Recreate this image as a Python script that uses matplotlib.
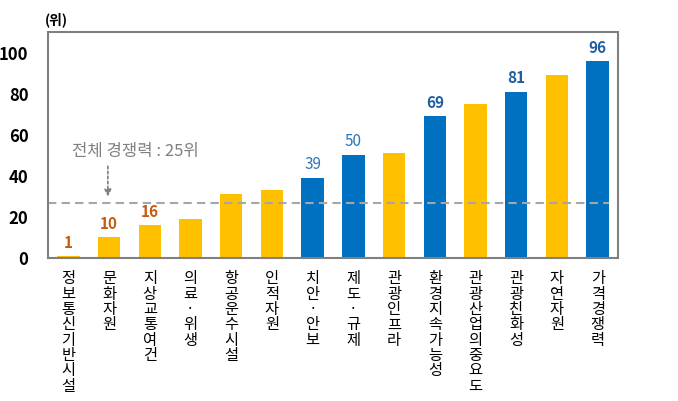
import matplotlib
matplotlib.use("Agg")
import matplotlib.pyplot as plt

plt.rcParams['font.family'] = ['Noto Sans CJK KR', 'DejaVu Sans']

categories = ["정보통신기반시설", "문화자원", "지상교통여건", "의료·위생", "항공운수시설", "인적자원",
              "치안·안보", "제도·규제", "관광인프라", "환경지속가능성", "관광산업의중요도", "관광친화성",
              "자연자원", "가격경쟁력"]
values = [1, 10, 16, 19, 31, 33, 39, 50, 51, 69, 75, 81, 89, 96]
groups = ["y", "y", "y", "y", "y", "y", "b", "b", "y", "b", "y", "b", "y", "b"]
labels = {0: ("1", "#C55A11", "bold"), 1: ("10", "#C55A11", "bold"), 2: ("16", "#C55A11", "bold"),
          6: ("39", "#2E75B6", "normal"), 7: ("50", "#2E75B6", "normal"),
          9: ("69", "#1F5FA0", "bold"), 11: ("81", "#1F5FA0", "bold"), 13: ("96", "#1F5FA0", "bold")}
overall = 27
yticks = [0, 20, 40, 60, 80, 100]

colors = {"y": "#FFC000", "b": "#0070C0"}

fig = plt.figure(figsize=(6.78, 4.01), dpi=100)
ax = fig.add_axes([48/678, 1-258/401, 570/678, 226/401])
x = list(range(len(values)))
ax.bar(x, values, width=0.55, color=[colors[g] for g in groups])
ax.set_xlim(-0.5, len(values)-0.5)
ax.set_ylim(0, 110)
ax.axhline(overall, color="#A6A6A6", linestyle=(0, (4, 2.5)), linewidth=1.5, xmin=0, xmax=0.985)
for i, (t, c, w) in labels.items():
    ax.text(i, values[i] + 2.5, t, ha="center", va="bottom", color=c, fontsize=11, fontweight=w)
for s in ax.spines.values():
    s.set_visible(False)
ax.plot([0, 0, 1, 1, 0], [0, 1, 1, 0, 0], transform=ax.transAxes, color="#7F7F7F",
        linewidth=1.5, clip_on=False, zorder=5, solid_joinstyle="miter")
ax.set_yticks(yticks)
ax.set_yticklabels([str(v) for v in yticks], fontsize=12, fontweight="bold")
ax.tick_params(axis="y", length=0, pad=14)
ax.set_xticks(x)
ax.set_xticklabels(["\n".join(c) for c in categories], fontsize=11, linespacing=0.87, va="top")
ax.tick_params(axis="x", length=0, pad=9)
ax.text(-0.005, 1.02, "(위)", transform=ax.transAxes, fontsize=10, ha="left", va="bottom", fontweight="bold")
ax.text(0.1, 52, "전체 경쟁력 : 25위", fontsize=12, color="#808080", ha="left", va="center")
ax.annotate("", xy=(0.97, overall + 1.5), xytext=(0.97, 46),
            arrowprops=dict(arrowstyle="-|>", color="#808080", linestyle=(0, (1.5, 1.5)), lw=1.2))
fig.savefig("out.png", dpi=100)
